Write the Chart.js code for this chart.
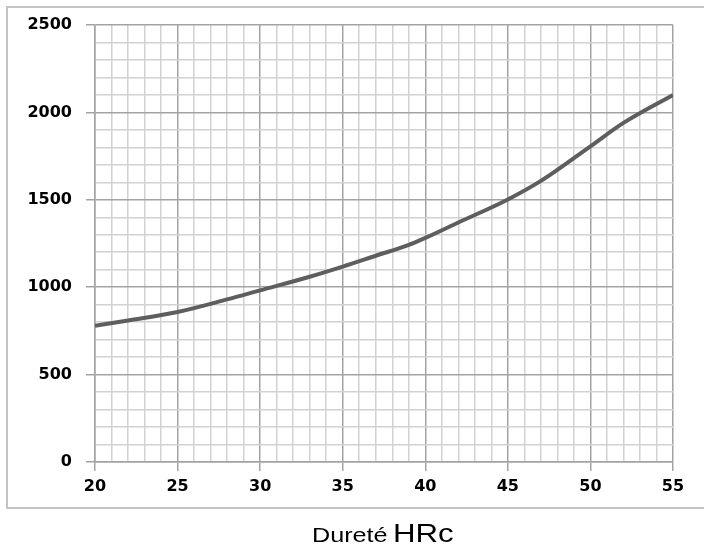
<!DOCTYPE html>
<html lang="fr">
<head>
    <meta charset="UTF-8">
    <title>Dureté HRc</title>
    <script src="https://cdn.jsdelivr.net/npm/chart.js"></script>
    <style>
        body { margin: 0; background: #fff; overflow: hidden; }
        #frame { position: absolute; left: 6px; top: 6px; width: 740px; height: 499px; border: 2px solid #c4c4c4; }
        #chart { position: absolute; left: 0; top: 0; }
        .ttl { position: absolute; font-family: "Liberation Sans", Arial, sans-serif; line-height: 1;
               color: #000; transform: scaleX(1.2); transform-origin: left top; white-space: nowrap; }
    </style>
</head>
<body>
<div id="frame"></div>
<canvas id="chart" width="704" height="553"></canvas>
<!-- titre de l'axe x : deux tailles de police -->
<span class="ttl" style="left:312px; top:524px; font-size:21px;">Dureté</span>
<span class="ttl" style="left:393px; top:520px; font-size:26px;">HRc</span>

<script>
    // valeurs
    const durete = [20, 22, 25, 28, 30, 33, 35, 37, 39, 40, 42, 45, 47, 50, 52, 55];
    const valeurs = [780, 810, 858, 930, 982, 1060, 1118, 1180, 1242, 1282, 1370, 1502, 1608, 1806, 1940, 2100];
    const xTicks = [20, 25, 30, 35, 40, 45, 50, 55];
    const yTicks = [0, 500, 1000, 1500, 2000, 2500];

    const points = durete.map((x, i) => ({ x: x, y: valeurs[i] }));
    const tickFont = { family: 'DejaVu Sans', weight: 'bold', size: 16 };

    // grille : traits majeurs plus foncés
    function gridColor(major) {
        return ctx => major.includes(ctx.tick.value) ? '#a3a3a3' : '#d2d2d2';
    }
    function tickColor(major) {
        return ctx => major.includes(ctx.tick.value) ? '#a3a3a3' : 'rgba(0,0,0,0)';
    }

    new Chart(document.getElementById('chart'), {
        type: 'line',
        data: {
            datasets: [{
                data: points,
                borderColor: '#5e5e5e',
                borderWidth: 4,
                pointRadius: 0,
                tension: 0.4,
                cubicInterpolationMode: 'monotone',
                fill: false
            }]
        },
        options: {
            responsive: false,
            animation: false,
            devicePixelRatio: 1,
            layout: { padding: { left: 0, right: 31, top: 25, bottom: 51 } },
            plugins: { legend: { display: false }, tooltip: { enabled: false } },
            scales: {
                x: {
                    type: 'linear',
                    min: 20,
                    max: 55,
                    afterFit: s => { s.height = 40; },
                    border: { color: '#a3a3a3', width: 1.5 },
                    grid: { color: gridColor(xTicks), tickColor: tickColor(xTicks), lineWidth: 1.5, tickLength: 9 },
                    ticks: {
                        stepSize: 1,
                        autoSkip: false,
                        maxRotation: 0,
                        padding: 6,
                        color: '#000',
                        font: tickFont,
                        callback: v => xTicks.includes(v) ? String(v) : ''
                    }
                },
                y: {
                    min: 0,
                    max: 2500,
                    afterFit: s => { s.width = 95; },
                    border: { color: '#a3a3a3', width: 1.5 },
                    grid: { color: gridColor(yTicks), tickColor: tickColor(yTicks), lineWidth: 1.5, tickLength: 9 },
                    ticks: {
                        stepSize: 100,
                        autoSkip: false,
                        padding: 14,
                        color: '#000',
                        font: tickFont,
                        callback: v => yTicks.includes(v) ? String(v) : ''
                    }
                }
            }
        }
    });
</script>
</body>
</html>
